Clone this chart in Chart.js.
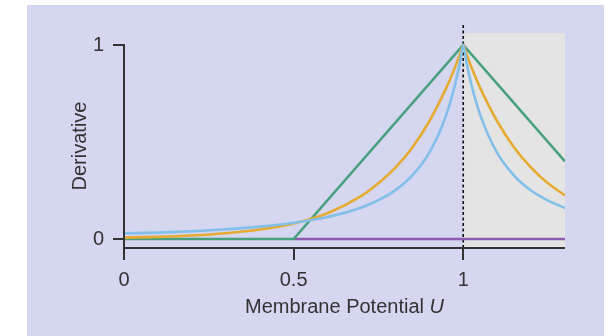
<!DOCTYPE html>
<html>
<head>
<meta charset="utf-8">
<script src="https://cdn.jsdelivr.net/npm/chart.js@4.4.1/dist/chart.umd.min.js"></script>
<style>
    html, body { margin: 0; padding: 0; background: #ffffff; }
    #panel { position: absolute; left: 27px; top: 5px; width: 577px; height: 331px; background: #d5d6f0; }
    #wrap { position: absolute; left: 0; top: 0; width: 613px; height: 336px; }
</style>
</head>
<body>
<div id="panel"></div>
<div id="wrap"><canvas id="derivChart" width="613" height="336"></canvas></div>
<script>
"use strict"

// membrane potential samples (x axis)
const potential = [0, 0.1, 0.2, 0.3, 0.4, 0.5, 0.6, 0.7, 0.75, 0.8, 0.85, 0.9, 0.95, 0.975, 0.99, 1,
    1.01, 1.025, 1.05, 1.1, 1.15, 1.2, 1.25, 1.3];
// orange curve
const orangeVals = [0.007, 0.011, 0.018, 0.030, 0.049, 0.080, 0.133, 0.222, 0.287, 0.368, 0.472, 0.607,
    0.779, 0.882, 0.951, 1, 0.951, 0.882, 0.779, 0.607, 0.472, 0.368, 0.287, 0.225];
// blue curve
const blueVals = [0.029, 0.033, 0.040, 0.050, 0.064, 0.084, 0.113, 0.162, 0.200, 0.252, 0.328, 0.445,
    0.640, 0.790, 0.907, 1, 0.907, 0.790, 0.640, 0.444, 0.327, 0.250, 0.198, 0.160];
// green (triangle) curve
const greenU = [0, 0.5, 1, 1.3];
const greenVals = [0, 0, 1, 0.4];
// purple flat line
const purpleU = [0.5, 1.3];
const purpleVals = [0, 0];

const xTicks = [0, 0.5, 1];
const yTicks = [0, 1];
const threshold = 1;

const axisColor = '#333333';
const fontFamily = '"Liberation Sans", Arial, Helvetica, sans-serif';

function pts(xs, ys) {
    return xs.map((v, i) => ({ x: v, y: ys[i] }));
}

// fond gris, pointillés, axes et titres
const decor = {
    id: 'decor',
    beforeDatasetsDraw(chart) {
        const ctx = chart.ctx;
        const x = chart.scales.x;
        const y = chart.scales.y;
        const bottom = chart.chartArea.bottom;
        ctx.save();
        ctx.fillStyle = '#e4e4e4';
        const left = x.getPixelForValue(threshold);
        const top = y.getPixelForValue(1.062);
        ctx.fillRect(left, top, x.getPixelForValue(1.3) - left, bottom - top);

        ctx.strokeStyle = '#111111';
        ctx.lineWidth = 1.6;
        ctx.setLineDash([3, 2.5]);
        ctx.beginPath();
        ctx.moveTo(left, chart.chartArea.top + 1);
        ctx.lineTo(left, bottom);
        ctx.stroke();
        ctx.restore();
    },
    afterDraw(chart) {
        const ctx = chart.ctx;
        const x = chart.scales.x;
        const y = chart.scales.y;
        const area = chart.chartArea;
        ctx.save();
        ctx.strokeStyle = axisColor;
        ctx.lineWidth = 2;
        ctx.beginPath();
        ctx.moveTo(area.left, y.getPixelForValue(1) - 1);
        ctx.lineTo(area.left, area.bottom);
        ctx.lineTo(x.getPixelForValue(1.3), area.bottom);
        ctx.stroke();

        ctx.fillStyle = axisColor;
        ctx.font = '20px ' + fontFamily;
        ctx.textBaseline = 'alphabetic';
        const part1 = 'Membrane Potential ';
        const part2 = 'U';
        const w1 = ctx.measureText(part1).width;
        ctx.font = 'italic 20px ' + fontFamily;
        const w2 = ctx.measureText(part2).width;
        const cx = (area.left + area.right) / 2;
        const startX = cx - (w1 + w2) / 2;
        ctx.font = '20px ' + fontFamily;
        ctx.textAlign = 'left';
        ctx.fillText(part1, startX, 313);
        ctx.font = 'italic 20px ' + fontFamily;
        ctx.fillText(part2, startX + w1, 313);

        ctx.translate(86, 146);
        ctx.rotate(-Math.PI / 2);
        ctx.font = '20px ' + fontFamily;
        ctx.textAlign = 'center';
        ctx.fillText('Derivative', 0, 0);
        ctx.restore();
    }
};

const canvas = document.getElementById('derivChart');
const ctx = canvas.getContext('2d');

new Chart(ctx, {
    type: 'line',
    data: {
        datasets: [{
            data: pts(potential, blueVals),
            borderColor: '#82bfe9',
            borderWidth: 2.6,
            cubicInterpolationMode: 'monotone',
            pointRadius: 0
        }, {
            data: pts(potential, orangeVals),
            borderColor: '#e5ab32',
            borderWidth: 2.6,
            cubicInterpolationMode: 'monotone',
            pointRadius: 0
        }, {
            data: pts(greenU, greenVals),
            borderColor: '#48a07c',
            borderWidth: 2.6,
            tension: 0,
            pointRadius: 0
        }, {
            data: pts(purpleU, purpleVals),
            borderColor: '#8c5cb0',
            borderWidth: 2.6,
            tension: 0,
            pointRadius: 0
        }]
    },
    options: {
        responsive: false,
        animation: false,
        devicePixelRatio: 1,
        layout: { padding: { top: 24, right: 48, left: 0, bottom: 0 } },
        plugins: {
            legend: { display: false },
            tooltip: { enabled: false }
        },
        scales: {
            x: {
                type: 'linear',
                min: 0,
                max: 1.3,
                afterBuildTicks: scale => { scale.ticks = xTicks.map(v => ({ value: v })); },
                afterFit: scale => { scale.height = 88; },
                border: { display: false },
                grid: {
                    drawOnChartArea: false,
                    drawTicks: true,
                    tickLength: 12,
                    color: axisColor,
                    lineWidth: 2
                },
                ticks: {
                    color: axisColor,
                    padding: 8,
                    maxRotation: 0,
                    font: { family: fontFamily, size: 20 },
                    callback: v => String(v)
                }
            },
            y: {
                type: 'linear',
                min: -0.0464,
                max: 1.1082,
                afterBuildTicks: scale => { scale.ticks = yTicks.map(v => ({ value: v })); },
                afterFit: scale => { scale.width = 124; },
                border: { display: false },
                grid: {
                    drawOnChartArea: false,
                    drawTicks: true,
                    tickLength: 11,
                    color: axisColor,
                    lineWidth: 2
                },
                ticks: {
                    color: axisColor,
                    padding: 9,
                    font: { family: fontFamily, size: 20 },
                    callback: v => String(v)
                }
            }
        }
    },
    plugins: [decor]
});
</script>
</body>
</html>
